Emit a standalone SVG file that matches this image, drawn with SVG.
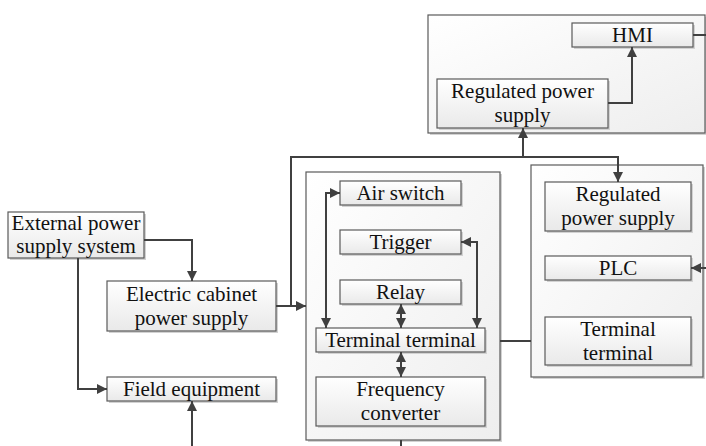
<svg xmlns="http://www.w3.org/2000/svg" width="706" height="446" viewBox="0 0 706 446">
<defs>
<linearGradient id="gBox" x1="0" y1="0" x2="0" y2="1">
<stop offset="0" stop-color="#ffffff"/>
<stop offset="1" stop-color="#e9e9e9"/>
</linearGradient>
<linearGradient id="gCont" x1="0" y1="0" x2="1" y2="1">
<stop offset="0" stop-color="#ffffff"/>
<stop offset="1" stop-color="#eeeeee"/>
</linearGradient>
<marker id="ah" viewBox="0 0 10 10" refX="10" refY="5" markerWidth="10" markerHeight="10" markerUnits="userSpaceOnUse" orient="auto-start-reverse">
<path d="M0,0 L10,5 L0,10 z" fill="#404040"/>
</marker>
</defs>
<style>
.box{fill:url(#gBox);stroke:#5a5a5a;stroke-width:1.2}
.cont{fill:url(#gCont);stroke:#5a5a5a;stroke-width:1.2}
.sh{fill:#d2d2d2}
.t{font-family:"Liberation Serif","Times New Roman",serif;font-size:21px;fill:#111;text-anchor:middle}
.ln{fill:none;stroke:#404040;stroke-width:2}
</style>
<rect width="706" height="446" fill="#ffffff"/>

<g id="top-container">
<rect class="sh" x="430" y="17" width="277" height="118"/>
<rect class="cont" x="428" y="15" width="277" height="118"/>
</g>
<g id="hmi">
<rect class="sh" x="574" y="25" width="121" height="24"/>
<rect class="box" x="572" y="23" width="121" height="24"/>
<text class="t" font-family="Liberation Serif, serif" x="632.5" y="42">HMI</text>
</g>
<g id="rps-top">
<rect class="sh" x="439" y="81" width="171" height="49"/>
<rect class="box" x="437" y="79" width="171" height="49"/>
<text class="t" font-family="Liberation Serif, serif" x="522.5" y="98">Regulated power</text>
<text class="t" font-family="Liberation Serif, serif" x="522.5" y="122">supply</text>
</g>

<g id="middle-container">
<rect class="sh" x="308" y="174" width="194" height="268"/>
<rect class="cont" x="306" y="172" width="194" height="268"/>
</g>
<g id="air-switch">
<rect class="sh" x="342" y="183" width="121" height="24"/>
<rect class="box" x="340" y="181" width="121" height="24"/>
<text class="t" font-family="Liberation Serif, serif" x="400.5" y="200">Air switch</text>
</g>
<g id="trigger">
<rect class="sh" x="342" y="232" width="121" height="24"/>
<rect class="box" x="340" y="230" width="121" height="24"/>
<text class="t" font-family="Liberation Serif, serif" x="400.5" y="249">Trigger</text>
</g>
<g id="relay">
<rect class="sh" x="342" y="282" width="121" height="24"/>
<rect class="box" x="340" y="280" width="121" height="24"/>
<text class="t" font-family="Liberation Serif, serif" x="400.5" y="299">Relay</text>
</g>
<g id="terminal-mid">
<rect class="sh" x="318" y="330" width="169" height="24"/>
<rect class="box" x="316" y="328" width="169" height="24"/>
<text class="t" font-family="Liberation Serif, serif" x="400.5" y="347">Terminal terminal</text>
</g>
<g id="freq-conv">
<rect class="sh" x="318" y="379" width="169" height="49"/>
<rect class="box" x="316" y="377" width="169" height="49"/>
<text class="t" font-family="Liberation Serif, serif" x="400.5" y="396">Frequency</text>
<text class="t" font-family="Liberation Serif, serif" x="400.5" y="420">converter</text>
</g>

<g id="right-container">
<rect class="sh" x="533" y="167" width="172" height="212"/>
<rect class="cont" x="531" y="165" width="172" height="212"/>
</g>
<g id="rps-right">
<rect class="sh" x="547" y="184" width="146" height="49"/>
<rect class="box" x="545" y="182" width="146" height="49"/>
<text class="t" font-family="Liberation Serif, serif" x="618" y="201">Regulated</text>
<text class="t" font-family="Liberation Serif, serif" x="618" y="225">power supply</text>
</g>
<g id="plc">
<rect class="sh" x="547" y="258" width="146" height="24"/>
<rect class="box" x="545" y="256" width="146" height="24"/>
<text class="t" font-family="Liberation Serif, serif" x="618" y="275">PLC</text>
</g>
<g id="terminal-right">
<rect class="sh" x="547" y="319" width="146" height="48"/>
<rect class="box" x="545" y="317" width="146" height="48"/>
<text class="t" font-family="Liberation Serif, serif" x="618" y="335.5">Terminal</text>
<text class="t" font-family="Liberation Serif, serif" x="618" y="359.5">terminal</text>
</g>

<g id="ext-power">
<rect class="sh" x="10" y="214" width="136" height="46"/>
<rect class="box" x="8" y="212" width="136" height="46"/>
<text class="t" font-family="Liberation Serif, serif" x="76" y="230">External power</text>
<text class="t" font-family="Liberation Serif, serif" x="76" y="253">supply system</text>
</g>
<g id="cabinet-power">
<rect class="sh" x="109" y="283" width="169" height="50"/>
<rect class="box" x="107" y="281" width="169" height="50"/>
<text class="t" font-family="Liberation Serif, serif" x="191.5" y="301">Electric cabinet</text>
<text class="t" font-family="Liberation Serif, serif" x="191.5" y="325">power supply</text>
</g>
<g id="field-equipment">
<rect class="sh" x="109" y="379" width="169" height="24"/>
<rect class="box" x="107" y="377" width="169" height="24"/>
<text class="t" font-family="Liberation Serif, serif" x="191.5" y="396">Field equipment</text>
</g>

<g id="connectors">
<polyline class="ln" points="144,240 192,240 192,281" marker-end="url(#ah)"/>
<polyline class="ln" points="78,258 78,389 107,389" marker-end="url(#ah)"/>
<polyline class="ln" points="192,446 192,401" marker-end="url(#ah)"/>
<polyline class="ln" points="276,306 306,306" marker-end="url(#ah)"/>
<polyline class="ln" points="291,306 291,157 618,157 618,182" marker-end="url(#ah)"/>
<polyline class="ln" points="523,157 523,128" marker-end="url(#ah)"/>
<polyline class="ln" points="608,103 632,103 632,47" marker-end="url(#ah)"/>
<polyline class="ln" points="693,35 706,35"/>
<polyline class="ln" points="706,268 691,268" marker-end="url(#ah)"/>
<polyline class="ln" points="340,193 326,193 326,328" marker-start="url(#ah)" marker-end="url(#ah)"/>
<polyline class="ln" points="461,242 477,242 477,328" marker-start="url(#ah)" marker-end="url(#ah)"/>
<polyline class="ln" points="401,304 401,328" marker-start="url(#ah)" marker-end="url(#ah)"/>
<polyline class="ln" points="401,352 401,377" marker-start="url(#ah)" marker-end="url(#ah)"/>
<polyline class="ln" points="401,440 401,446"/>
<polyline class="ln" points="500,341 531,341"/>
</g>
</svg>
